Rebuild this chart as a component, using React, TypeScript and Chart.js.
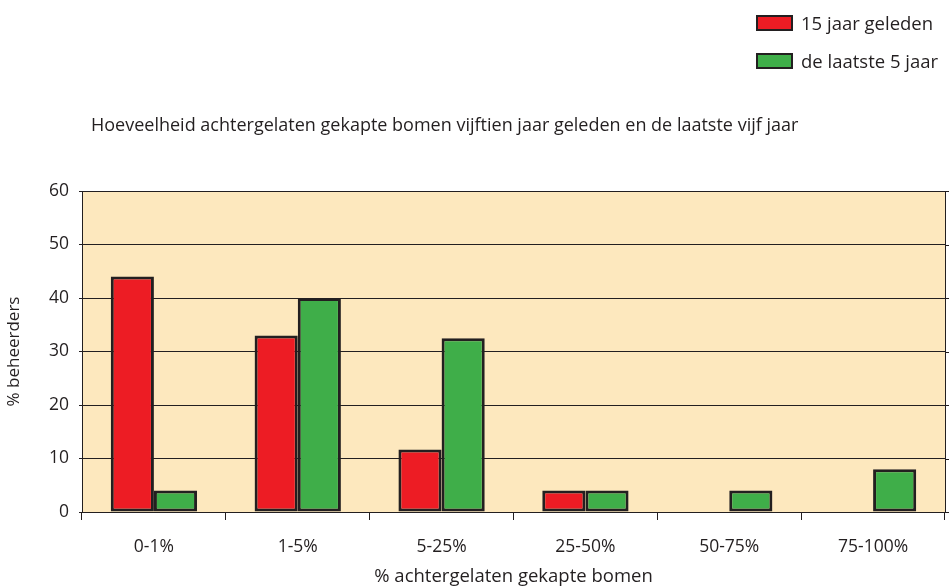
import React, { useEffect, useRef } from "react";
import { Chart, registerables } from "chart.js";

Chart.register(...registerables);

const categories = ["0-1%", "1-5%", "5-25%", "25-50%", "50-75%", "75-100%"];
const series15 = [44, 33, 11.7, 4, 0, 0];
const seriesLast5 = [4, 40, 32.5, 4, 4, 8];
const yTicks = [0, 10, 20, 30, 40, 50, 60];
const seriesNames = ["15 jaar geleden", "de laatste 5 jaar"];
const titleText = "Hoeveelheid achtergelaten gekapte bomen vijftien jaar geleden en de laatste vijf jaar";
const xTitle = "% achtergelaten gekapte bomen";
const yTitle = "% beheerders";

const RED = "#ED1C24";
const GREEN = "#3FAE49";
const DARK = "#231F20";
const BG = "#FDE8BE";
const FONT = "'Open Sans', sans-serif";

const bgPlugin = {
  id: "bgPlugin",
  beforeDraw(chart: any) {
    const { ctx, chartArea } = chart;
    ctx.save();
    ctx.fillStyle = BG;
    ctx.fillRect(chartArea.left, chartArea.top, chartArea.right - chartArea.left, chartArea.bottom - chartArea.top);
    ctx.fillStyle = DARK;
    ctx.font = `18px ${FONT}`;
    ctx.textBaseline = "middle";
    ctx.textAlign = "left";
    ctx.fillText(titleText, 91, 126);
    ctx.restore();
  },
  afterDraw(chart: any) {
    const { ctx, chartArea, scales } = chart;
    ctx.save();
    ctx.strokeStyle = DARK;
    ctx.lineWidth = 1;
    ctx.beginPath();
    ctx.moveTo(chartArea.right + 0.5, chartArea.top);
    ctx.lineTo(chartArea.right + 0.5, chartArea.bottom);
    yTicks.forEach((v) => {
      const y = Math.round(scales.y.getPixelForValue(v)) + 0.5;
      ctx.moveTo(chartArea.right, y);
      ctx.lineTo(chartArea.right + 4, y);
    });
    ctx.stroke();
    ctx.restore();
  },
};

export default function App() {
  const ref = useRef<HTMLCanvasElement | null>(null);
  useEffect(() => {
    document.body.style.margin = "0";
    const chart = new Chart(ref.current as HTMLCanvasElement, {
      type: "bar",
      data: {
        labels: categories,
        datasets: [
          {
            label: seriesNames[0],
            data: series15,
            backgroundColor: RED,
            borderColor: DARK,
            borderWidth: 3,
            borderSkipped: false,
          },
          {
            label: seriesNames[1],
            data: seriesLast5,
            backgroundColor: GREEN,
            borderColor: DARK,
            borderWidth: 3,
            borderSkipped: false,
          },
        ],
      },
      options: {
        animation: false,
        responsive: false,
        maintainAspectRatio: false,
        layout: { padding: { left: 0, right: 7, top: 191, bottom: 0 } },
        datasets: { bar: { categoryPercentage: 0.6, barPercentage: 1.0 } },
        plugins: {
          legend: { display: false },
          tooltip: { enabled: false },
          title: { display: false },
        },
        scales: {
          x: {
            afterFit: (s: any) => {
              s.height = 76;
            },
            grid: {
              drawOnChartArea: false,
              drawTicks: true,
              tickLength: 8,
              color: DARK,
              offset: true,
            },
            border: { display: true, color: DARK, width: 1 },
            ticks: {
              color: DARK,
              font: { family: FONT, size: 17.5 },
              padding: 17,
            },
            title: {
              display: true,
              text: xTitle,
              color: DARK,
              font: { family: FONT, size: 18.5 },
              padding: { top: 0, bottom: 0 },
            },
          },
          y: {
            min: 0,
            max: 60,
            afterBuildTicks: (s: any) => {
              s.ticks = yTicks.map((v) => ({ value: v }));
            },
            afterFit: (s: any) => {
              s.width = 82;
            },
            grid: {
              color: DARK,
              lineWidth: 1,
              drawTicks: true,
              tickLength: 3,
            },
            border: { display: true, color: DARK, width: 1 },
            ticks: {
              color: DARK,
              font: { family: FONT, size: 17.5 },
              padding: 10,
            },
            title: {
              display: true,
              text: yTitle,
              color: DARK,
              font: { family: FONT, size: 17 },
              padding: { top: 4, bottom: 0 },
            },
          },
        },
      },
      plugins: [bgPlugin],
    } as any);
    return () => chart.destroy();
  }, []);

  const legendItem = (color: string, text: string, top: number) => (
    <div style={{ position: "absolute", left: 756, top, height: 17, display: "flex", alignItems: "center", fontFamily: FONT, fontSize: 18.5, lineHeight: "17px", color: DARK, whiteSpace: "nowrap" }}>
      <div style={{ width: 33, height: 12, background: color, border: `2.5px solid ${DARK}`, marginRight: 8, flex: "none" }} />
      <span>{text}</span>
    </div>
  );

  return (
    <div style={{ position: "fixed", left: 0, top: 0, width: 952, height: 588, background: "#fff" }}>
      <canvas ref={ref} width={952} height={588} style={{ position: "absolute", left: 0, top: 0 }} />
      {legendItem(RED, seriesNames[0], 14)}
      {legendItem(GREEN, seriesNames[1], 52)}
    </div>
  );
}
